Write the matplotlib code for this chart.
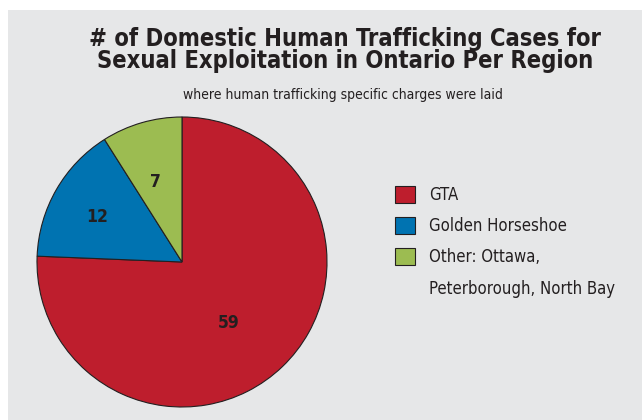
import matplotlib
matplotlib.use("Agg")
import matplotlib.pyplot as plt
from matplotlib.patches import Rectangle, Patch

categories = ["GTA", "Golden Horseshoe", "Other: Ottawa,"]
values = [59, 12, 7]
extra_legend_line = "Peterborough, North Bay"
colors = ["#be1e2d", "#0073b1", "#9cbc51"]
label_pos = [(0.324, -0.421), (-0.586, 0.31), (-0.186, 0.552)]
title = "# of Domestic Human Trafficking Cases for\nSexual Exploitation in Ontario Per Region"
subtitle = "where human trafficking specific charges were laid"

W, H = 642, 420
fig = plt.figure(figsize=(W / 100, H / 100), dpi=100, facecolor="white")
fig.patches.append(Rectangle((8 / W, 0), (W - 8) / W, 410 / H, transform=fig.transFigure,
                             facecolor="#e6e7e8", edgecolor="none", zorder=-5))

txt = "#231f20"
fam = ["DejaVu Sans"]

fig.text(345 / W, 1 - 50 / H, title, ha="center", va="center", fontsize=17,
         family=fam, fontstretch="condensed", fontweight="bold",
         color=txt, linespacing=0.92)
fig.text(343 / W, 1 - 95 / H, subtitle, ha="center", va="center", fontsize=10,
         family=fam, fontstretch="condensed", color=txt)

cx, cy, r = 182, 262, 145
ax = fig.add_axes([(cx - r) / W, (H - cy - r) / H, 2 * r / W, 2 * r / H], zorder=2)
wedges, texts, autotexts = ax.pie(
    values, colors=colors, startangle=90, counterclock=False,
    autopct=lambda p: f"{round(p * sum(values) / 100)}", pctdistance=0.6,
    wedgeprops=dict(edgecolor=txt, linewidth=0.8),
    textprops=dict(fontsize=12.5, fontweight="bold", color=txt, family=fam,
                   fontstretch="condensed"))
for t, pos in zip(autotexts, label_pos):
    t.set_position(pos)
ax.set_xlim(-1, 1)
ax.set_ylim(-1, 1)
ax.axis("off")
ax.patch.set_visible(False)

handles = [Patch(facecolor=c, edgecolor=txt, linewidth=0.8) for c in colors]
handles.append(Patch(facecolor="none", edgecolor="none"))
labels = categories + [extra_legend_line]
fig.legend(handles, labels, loc="upper left", bbox_to_anchor=(380 / W, 1 - 171 / H),
           frameon=False, handlelength=1.2, handleheight=1.2, handletextpad=0.85,
           labelspacing=0.78, prop=dict(family=fam, size=12, stretch="condensed"),
           labelcolor=txt)

fig.savefig("out.png", dpi=100, facecolor="white")
